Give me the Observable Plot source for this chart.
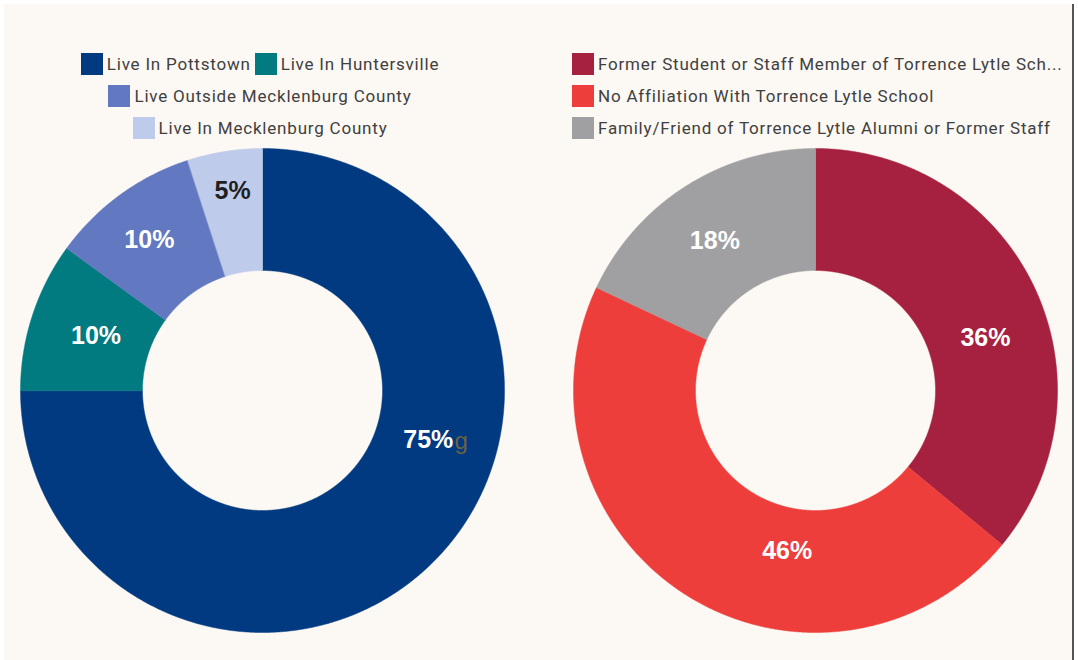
<!DOCTYPE html>
<html>
<head>
<meta charset="utf-8">
<script src="https://cdn.jsdelivr.net/npm/d3@7"></script>
<script src="https://cdn.jsdelivr.net/npm/@observablehq/plot@0.6"></script>
<style>
  html, body { margin: 0; padding: 0; background: #ffffff; }
  #frame { position: absolute; left: 4px; top: 4px; width: 1068px; height: 656px; background: #fcf8f3; border-right: 2px solid #555; overflow: hidden; }
  .legend { position: absolute; font-family: Roboto, "Liberation Sans", sans-serif; font-size: 17px; letter-spacing: 0.8px; color: #404040; }
  .row { height: 32px; display: flex; align-items: center; white-space: nowrap; }
  .legend.center .row { justify-content: center; }
  .item { display: inline-flex; align-items: center; margin: 0 2px; }
  .sw { width: 22px; height: 22px; margin-right: 4px; display: inline-block; }
  .chart { position: absolute; }
</style>
</head>
<body>
<div id="frame">
  <div id="legL" class="legend center" style="left:7px; top:44px; width:498px;"></div>
  <div id="legR" class="legend" style="left:566px; top:44px; width:500px;"></div>
  <div id="chartL" class="chart" style="left:4px; top:132px;"></div>
  <div id="chartR" class="chart" style="left:557px; top:132px;"></div>
</div>
<script>
// ---- Data ----
const residenceCategories = ["Live In Pottstown", "Live In Huntersville", "Live Outside Mecklenburg County", "Live In Mecklenburg County"];
const residenceValues = [75, 10, 10, 5];
const residenceLabels = ["75%", "10%", "10%", "5%"];
const residenceColors = ["#013a81", "#017a80", "#6278c0", "#bfcbea"];
const residenceLegendRows = [[0, 1], [2], [3]];

const affiliationCategories = ["Former Student or Staff Member of Torrence Lytle School", "No Affiliation With Torrence Lytle School", "Family/Friend of Torrence Lytle Alumni or Former Staff"];
const affiliationLegendText = ["Former Student or Staff Member of Torrence Lytle Sch...", "No Affiliation With Torrence Lytle School", "Family/Friend of Torrence Lytle Alumni or Former Staff"];
const affiliationValues = [36, 46, 18];
const affiliationLabels = ["36%", "46%", "18%"];
const affiliationColors = ["#a6213f", "#ee3e3b", "#a0a0a3"];

// ---- Layout (label placement as angle in degrees clockwise from north, and radius) ----
const residenceLabelPlace = [[106.6, 173], [288, 175], [323, 188], [351.5, 202]];
const residenceLabelColor = ["#ffffff", "#ffffff", "#ffffff", "#1f1f1f"];
const affiliationLabelPlace = [[72.7, 178], [190, 163], [326, 180]];
const affiliationLabelColor = ["#ffffff", "#ffffff", "#ffffff"];

const OUTER = 242, INNER = 120, HALF = 254;

function legend(el, names, colors, rows) {
  const root = document.getElementById(el);
  rows.forEach(r => {
    const row = document.createElement("div");
    row.className = "row";
    r.forEach(i => {
      const it = document.createElement("span");
      it.className = "item";
      const sw = document.createElement("span");
      sw.className = "sw"; sw.style.background = colors[i];
      it.appendChild(sw);
      it.appendChild(document.createTextNode(names[i]));
      row.appendChild(it);
    });
    root.appendChild(row);
  });
}

function donut(el, cats, values, colors, labels, place, labelColors, extra) {
  const pie = d3.pie().sort(null).value(d => d.value);
  const arcs = pie(cats.map((c, i) => ({key: c, value: values[i], i})));
  const marks = [];
  arcs.forEach(a => {
    const pts = [];
    const step = Math.PI / 720;
    const n = Math.max(2, Math.ceil((a.endAngle - a.startAngle) / step));
    for (let k = 0; k <= n; k++) {
      const t = a.startAngle + (a.endAngle - a.startAngle) * k / n;
      pts.push({x: OUTER * Math.sin(t), y: OUTER * Math.cos(t)});
    }
    for (let k = n; k >= 0; k--) {
      const t = a.startAngle + (a.endAngle - a.startAngle) * k / n;
      pts.push({x: INNER * Math.sin(t), y: INNER * Math.cos(t)});
    }
    marks.push(Plot.line(pts, {x: "x", y: "y", fill: colors[a.data.i], stroke: colors[a.data.i], strokeWidth: 0.5, curve: "linear-closed"}));
  });
  const lab = arcs.map(a => {
    const [deg, r] = place[a.data.i];
    const t = deg * Math.PI / 180;
    return {x: r * Math.sin(t), y: r * Math.cos(t), text: labels[a.data.i], color: labelColors[a.data.i]};
  });
  marks.push(Plot.text(lab, {x: "x", y: "y", text: "text", fill: d => d.color, fontSize: 25, fontWeight: "bold", fontFamily: "Liberation Sans, Arial, sans-serif"}));
  if (extra) marks.push(extra(lab));
  const p = Plot.plot({
    width: HALF * 2, height: HALF * 2, margin: 0,
    x: {domain: [-HALF, HALF], axis: null},
    y: {domain: [-HALF, HALF], axis: null},
    style: {background: "transparent", overflow: "visible"},
    marks
  });
  document.getElementById(el).appendChild(p);
}

legend("legL", residenceCategories, residenceColors, residenceLegendRows);
legend("legR", affiliationLegendText, affiliationColors, [[0], [1], [2]]);
donut("chartL", residenceCategories, residenceValues, residenceColors, residenceLabels, residenceLabelPlace, residenceLabelColor,
  lab => Plot.text([lab[0]], {x: "x", y: "y", text: () => "g", dx: 33, dy: 1, fill: "#6b6240", fontSize: 24, fontFamily: "Liberation Sans, Arial, sans-serif"}));
donut("chartR", affiliationCategories, affiliationValues, affiliationColors, affiliationLabels, affiliationLabelPlace, affiliationLabelColor);
</script>
</body>
</html>
